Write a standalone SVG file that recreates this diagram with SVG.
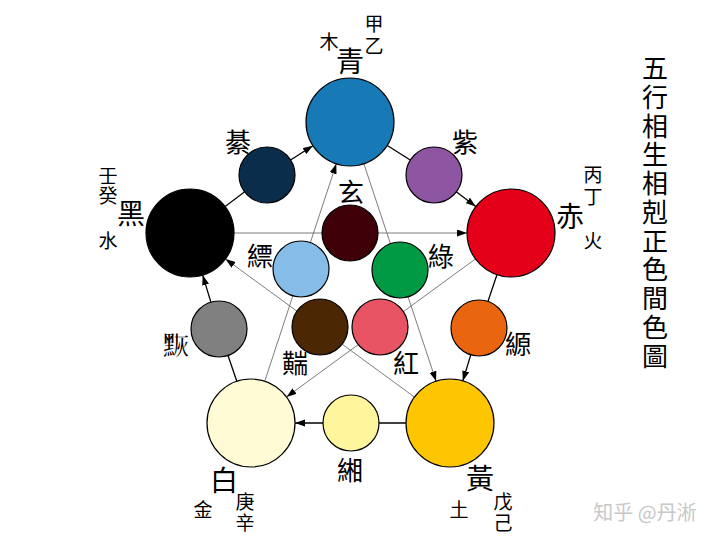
<svg xmlns="http://www.w3.org/2000/svg" width="720" height="540" viewBox="0 0 720 540">
<style>
.t{font-family:"Noto Sans CJK TC","Noto Sans CJK SC","Noto Sans CJK JP",sans-serif;fill:#000;text-anchor:middle;dominant-baseline:central}
.big{font-size:28px}
.mid{font-size:26px}
.sm{font-size:19px}
.ttl{font-size:26px}
.c{stroke:#000;stroke-width:1.2}
.o{stroke:#000;stroke-width:1.3;fill:none}
.i{stroke:#6e6e6e;stroke-width:0.9;fill:none}
</style>
<defs>
<marker id="ah" markerUnits="userSpaceOnUse" markerWidth="11" markerHeight="8" refX="10" refY="3.5" orient="auto">
<path d="M0,0 L10,3.5 L0,7 z" fill="#000"/>
</marker>
</defs>
<rect width="720" height="540" fill="#fff"/>
<g id="connectors">
<line class="o" x1="190" y1="233" x2="267" y2="175"/>
<line class="o" x1="267" y1="175" x2="312.9" y2="145.7" marker-end="url(#ah)"/>
<line class="o" x1="350" y1="122" x2="434" y2="175"/>
<line class="o" x1="434" y1="175" x2="475.8" y2="206.5" marker-end="url(#ah)"/>
<line class="o" x1="511" y1="233" x2="479" y2="328"/>
<line class="o" x1="479" y1="328" x2="462.8" y2="380.9" marker-end="url(#ah)"/>
<line class="o" x1="450" y1="423" x2="351" y2="423"/>
<line class="o" x1="351" y1="423" x2="295" y2="423" marker-end="url(#ah)"/>
<line class="o" x1="251" y1="423" x2="219" y2="329"/>
<line class="o" x1="219" y1="329" x2="202.7" y2="275.1" marker-end="url(#ah)"/>
<line class="i" x1="190" y1="233" x2="467" y2="233" marker-end="url(#ah)"/>
<line class="i" x1="511" y1="233" x2="286.5" y2="397" marker-end="url(#ah)"/>
<line class="i" x1="251" y1="423" x2="336.3" y2="163.8" marker-end="url(#ah)"/>
<line class="i" x1="350" y1="122" x2="436.1" y2="381.2" marker-end="url(#ah)"/>
<line class="i" x1="450" y1="423" x2="225.5" y2="259" marker-end="url(#ah)"/>
</g>
<g id="qing">
<circle class="c" cx="350" cy="122" r="44" fill="#1779b5"/>
<text class="t big" x="350" y="60">青</text>
<text class="t sm" x="329" y="40">木</text>
<text class="t sm"><tspan x="374" y="22">甲</tspan><tspan x="374" y="44">乙</tspan></text>
</g>
<g id="hei">
<circle class="c" cx="190" cy="233" r="44" fill="#000"/>
<text class="t big" x="131" y="212">黑</text>
<text class="t sm"><tspan x="108" y="174">壬</tspan><tspan x="108" y="194">癸</tspan></text>
<text class="t sm" x="108" y="239">水</text>
</g>
<g id="chi">
<circle class="c" cx="511" cy="233" r="44" fill="#e50019"/>
<text class="t big" x="570" y="215">赤</text>
<text class="t sm"><tspan x="593" y="173">丙</tspan><tspan x="593" y="195">丁</tspan></text>
<text class="t sm" x="593" y="239">火</text>
</g>
<g id="bai">
<circle class="c" cx="251" cy="423" r="44" fill="#fffcd5"/>
<text class="t big" x="224" y="479">白</text>
<text class="t sm" x="203" y="508">金</text>
<text class="t sm"><tspan x="245" y="500">庚</tspan><tspan x="245" y="521">辛</tspan></text>
</g>
<g id="huang">
<circle class="c" cx="450" cy="423" r="44" fill="#fdc600"/>
<text class="t big" x="480" y="477">黃</text>
<text class="t sm" x="459" y="508">土</text>
<text class="t sm"><tspan x="503" y="500">戊</tspan><tspan x="503" y="521">己</tspan></text>
</g>
<g id="qi">
<circle class="c" cx="267" cy="175" r="28" fill="#0b2d4c"/>
<text class="t mid" x="238" y="140">綦</text>
</g>
<g id="zi">
<circle class="c" cx="434" cy="175" r="28" fill="#8e55a2"/>
<text class="t mid" x="465" y="140">紫</text>
</g>
<g id="quan">
<circle class="c" cx="479" cy="328" r="28" fill="#ea6510"/>
<text class="t mid" x="518" y="342">縓</text>
</g>
<g id="xiang">
<circle class="c" cx="351" cy="423" r="28" fill="#fff59d"/>
<text class="t mid" x="350" y="468">緗</text>
</g>
<g id="hui">
<circle class="c" cx="219" cy="329" r="28" fill="#808080"/>
<text class="t mid" x="176" y="343">&#x2A440;</text>
</g>
<g id="xuan">
<circle class="c" cx="350" cy="233" r="28" fill="#3f0007"/>
<text class="t mid" x="351" y="190">玄</text>
</g>
<g id="piao">
<circle class="c" cx="301" cy="269" r="28" fill="#86bce8"/>
<text class="t mid" x="260" y="254">縹</text>
</g>
<g id="lv">
<circle class="c" cx="400" cy="270" r="28" fill="#009a44"/>
<text class="t mid" x="441" y="254">綠</text>
</g>
<g id="hong">
<circle class="c" cx="380" cy="327" r="28" fill="#e95464"/>
<text class="t mid" x="406" y="361">紅</text>
</g>
<g id="tuan">
<circle class="c" cx="320" cy="327" r="28" fill="#4b2803"/>
<text class="t mid" x="295" y="361">䵎</text>
</g>
<g id="title">
<text class="t ttl"><tspan x="655" y="66">五</tspan><tspan x="655" y="95">行</tspan><tspan x="655" y="124">相</tspan><tspan x="655" y="152">生</tspan><tspan x="655" y="181">相</tspan><tspan x="655" y="210">剋</tspan><tspan x="655" y="239">正</tspan><tspan x="655" y="267">色</tspan><tspan x="655" y="296">間</tspan><tspan x="655" y="325">色</tspan><tspan x="655" y="354">圖</tspan></text>
</g>
<text x="645" y="511" style="font-family:'Noto Sans CJK SC',sans-serif;font-size:20px;fill:#c8c8c8;text-anchor:middle;dominant-baseline:central">知乎 @丹淅</text>
</svg>
